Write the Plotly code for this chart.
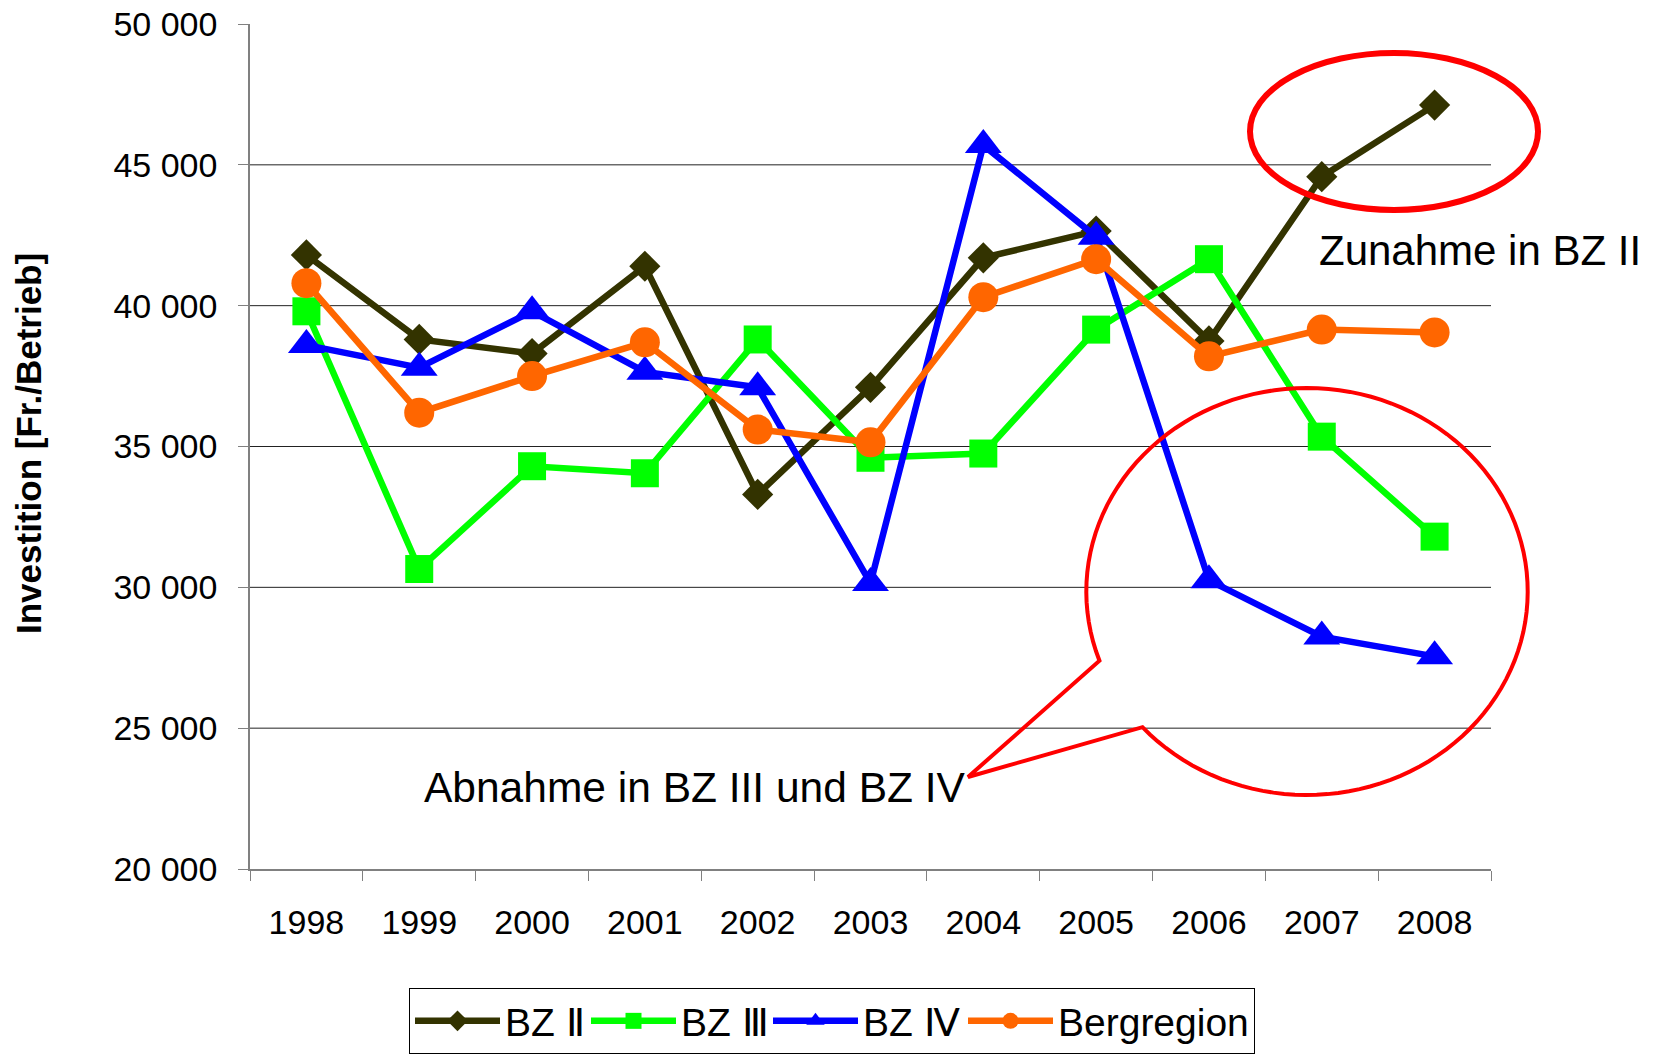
import math
import plotly.graph_objects as go

# ---- data ----
years = ["1998", "1999", "2000", "2001", "2002", "2003", "2004", "2005", "2006", "2007", "2008"]
bz2 = [41800, 38800, 38300, 41400, 33300, 37100, 41700, 42650, 38750, 44580, 47120]
bz3 = [39800, 30650, 34300, 34050, 38800, 34600, 34750, 39150, 41650, 35350, 31800]
bz4 = [38600, 37800, 39800, 37650, 37100, 30150, 45700, 42450, 30250, 28250, 27550]
berg = [40800, 36200, 37500, 38700, 35600, 35150, 40300, 41650, 38200, 39150, 39050]
series_names = ["BZ \u2161", "BZ \u2162", "BZ \u2163", "Bergregion"]
y_tickvals = [20000, 25000, 30000, 35000, 40000, 45000, 50000]
y_ticktext = ["20 000", "25 000", "30 000", "35 000", "40 000", "45 000", "50 000"]
grid_values = [25000, 30000, 35000, 40000, 45000]

# ---- geometry (page pixels; body margin removed in post_script) ----
W, H = 1663, 1054
L, R, T, B = 250, 1491, 24, 869
FONT = "Liberation Sans, Arial, sans-serif"


def px(x):
    return (x - L) / (R - L)


def py(y):
    return (B - y) / (B - T)


styles = [
    dict(color="#333300", symbol="diamond", size=24, lw=76),
    dict(color="#00FF00", symbol="square", size=28, lw=82),
    dict(color="#0000FF", symbol="triangle-up", size=32, lw=95),
    dict(color="#FF6600", symbol="circle", size=30, lw=0),
]

fig = go.Figure()
for name, vals, st in zip(series_names, [bz2, bz3, bz4, berg], styles):
    kw = {}
    if st["lw"]:
        kw["legendwidth"] = st["lw"]
    fig.add_trace(go.Scatter(
        x=years, y=vals, name=name, mode="lines+markers",
        line=dict(color=st["color"], width=6.5),
        marker=dict(color=st["color"], symbol=st["symbol"], size=st["size"],
                    line=dict(width=0)),
        cliponaxis=False, **kw,
    ))

shapes = []
for g in grid_values:
    shapes.append(dict(type="line", xref="paper", yref="y", x0=0, x1=1, y0=g, y1=g,
                       line=dict(color="#222222", width=1), layer="below"))

# top ellipse
shapes.append(dict(type="circle", xref="paper", yref="paper",
                   x0=px(1250), x1=px(1538), y0=py(210), y1=py(53),
                   line=dict(color="#FF0000", width=6), layer="above"))

# callout ellipse with pointer
cx, cy, rx, ry = 1307, 591.5, 220.7, 203.5
a0, a1 = 160.1, 498.2
pts = []
n = 120
for i in range(n + 1):
    t = math.radians(a0 + (a1 - a0) * i / n)
    pts.append((cx + rx * math.cos(t), cy + ry * math.sin(t)))
pts.append((968, 777))
path = "M " + " L ".join(f"{px(x):.5f},{py(y):.5f}" for x, y in pts) + " Z"
shapes.append(dict(type="path", xref="paper", yref="paper", path=path,
                   line=dict(color="#FF0000", width=4), layer="above"))

annotations = [
    dict(text="Investition [Fr./Betrieb]", xref="paper", yref="paper",
         x=px(28), y=py(444), textangle=-90, showarrow=False,
         xanchor="center", yanchor="middle",
         font=dict(family=FONT, size=35, color="black", weight="bold")),
    dict(text="Zunahme in BZ II", xref="paper", yref="paper",
         x=px(1317), y=py(250), showarrow=False, xanchor="left", yanchor="middle",
         font=dict(family=FONT, size=42, color="black")),
    dict(text="Abnahme in BZ III und BZ IV", xref="paper", yref="paper",
         x=px(422), y=py(787), showarrow=False, xanchor="left", yanchor="middle",
         font=dict(family=FONT, size=42.5, color="black")),
]

fig.update_layout(
    width=W, height=H,
    margin=dict(l=L, r=W - R, t=T, b=H - B, autoexpand=False),
    paper_bgcolor="white", plot_bgcolor="white",
    font=dict(family=FONT, color="black"),
    shapes=shapes, annotations=annotations,
    showlegend=True,
    legend=dict(orientation="h", x=px(409), y=py(988), xanchor="left", yanchor="top",
                bordercolor="black", borderwidth=1, bgcolor="white",
                font=dict(family=FONT, size=39, color="black"),
                itemwidth=85),
    xaxis=dict(type="category", range=[-0.5, 10.5], tickson="boundaries",
               ticks="outside", ticklen=10, tickcolor="#808080",
               showline=True, linecolor="#808080", linewidth=1.5,
               showgrid=False, tickfont=dict(family=FONT, size=34, color="black"),
               ticklabelstandoff=22, ticklabeloverflow="allow"),
    yaxis=dict(range=[20000, 50000], tickvals=y_tickvals, ticktext=y_ticktext,
               ticks="outside", ticklen=10, tickcolor="#808080",
               showline=True, linecolor="#808080", linewidth=1.5,
               showgrid=False, zeroline=False,
               tickfont=dict(family=FONT, size=34, color="black"),
               ticklabelstandoff=14, ticklabeloverflow="allow"),
)

fig.write_html("out.html",
               config={"displayModeBar": False},
               post_script="document.body.style.margin='0';document.body.style.overflow='hidden';")
